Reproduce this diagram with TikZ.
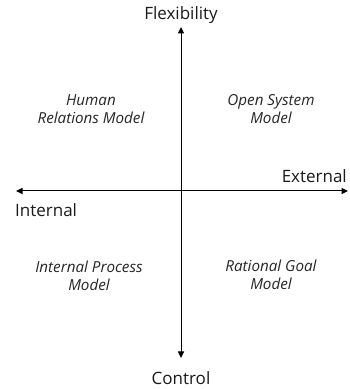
\documentclass[tikz,border=0pt]{standalone}
\usepackage{fontspec}
\setmainfont{Open Sans}
\usetikzlibrary{arrows.meta}
\begin{document}
\begin{tikzpicture}[x=1pt,y=1pt,
  axis/.style={line width=1pt,{Triangle[length=6.5pt,width=6pt]}-{Triangle[length=6.5pt,width=6pt]}},
  axislabel/.style={font=\fontsize{17}{18}\selectfont, inner sep=0pt, text=black!90},
  model/.style={font=\itshape\fontsize{15.2}{17.5}\selectfont, align=center, inner sep=0pt, text=black!85}]
  \useasboundingbox (0,0) rectangle (349,389);
  % axis end points
  \coordinate (top) at (181,362);
  \coordinate (bottom) at (181,31);
  \coordinate (left) at (16,198);
  \coordinate (right) at (348,198);
  \draw[axis] (bottom) -- (top);
  \draw[axis] (left) -- (right);
  % axis labels
  \node[axislabel] (flex) at (181,374) {Flexibility};
  \node[axislabel] (ctrl) at (181,11) {Control};
  \node[axislabel, anchor=east] (ext) at (347,213) {External};
  \node[axislabel, anchor=west] (int) at (15,179) {Internal};
  % quadrant labels
  \node[model] (hr) at (91,280) {Human\\Relations Model};
  \node[model] (os) at (271,280) {Open System\\Model};
  \node[model] (ip) at (89,113) {Internal Process\\Model};
  \node[model] (rg) at (271,114) {Rational Goal\\Model};
\end{tikzpicture}
\end{document}
